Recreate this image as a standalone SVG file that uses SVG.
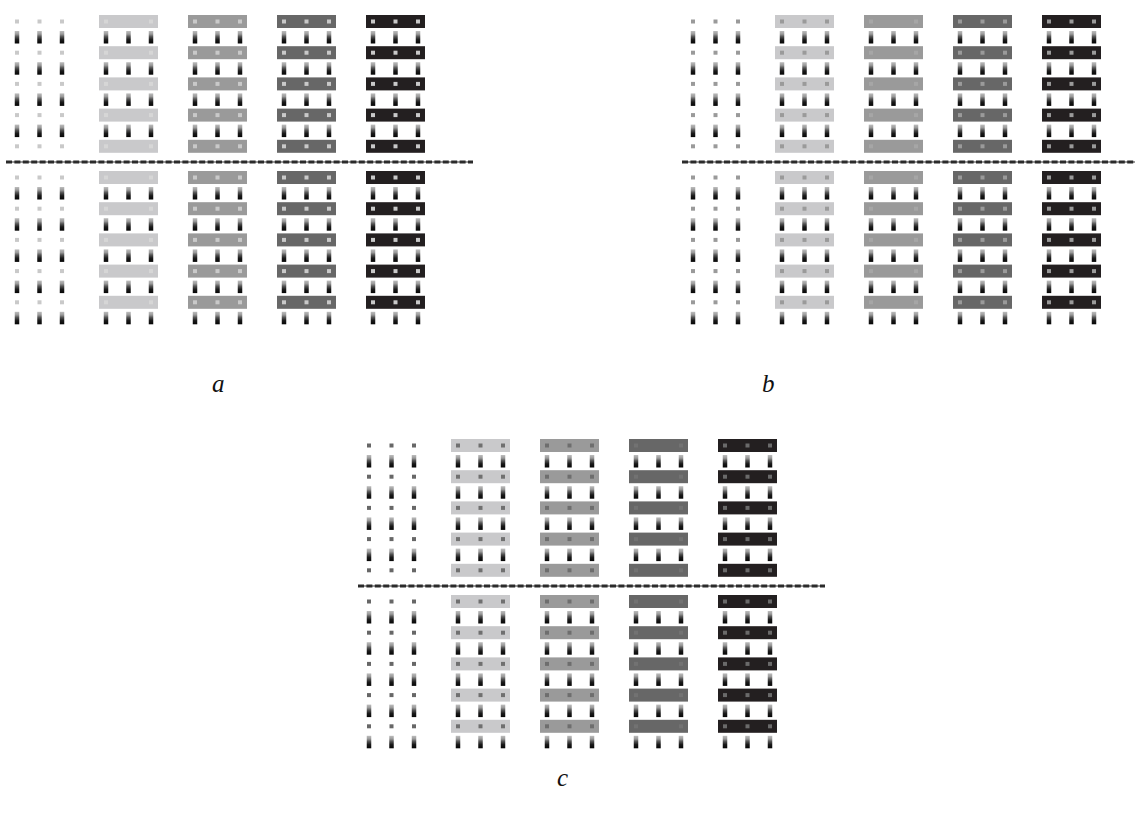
<svg xmlns="http://www.w3.org/2000/svg" xmlns:xlink="http://www.w3.org/1999/xlink" width="1135" height="817" viewBox="0 0 1135 817">
<style>
.lbl{font-family:"Liberation Serif","Times New Roman",serif;font-style:italic;font-size:25px;fill:#111}
.dash{stroke:#2b2b2b;stroke-width:3;stroke-dasharray:6 2.4}
.dashbg{stroke:#9a9a9a;stroke-width:2}
</style>
<defs>
<linearGradient id="pg" x1="0" y1="0" x2="0" y2="1">
<stop offset="0" stop-color="#bdbdbd"/>
<stop offset="0.25" stop-color="#9a9a9a"/>
<stop offset="0.45" stop-color="#555"/>
<stop offset="0.7" stop-color="#1a1a1a"/>
<stop offset="1" stop-color="#050505"/>
</linearGradient>
<rect id="p" x="-0.25" width="4.5" height="12.5" fill="url(#pg)"/>
<g id="pr"><use href="#p" x="5"/><use href="#p" x="27.5"/><use href="#p" x="50"/></g>
<g id="pc">
<use href="#pr" y="31"/><use href="#pr" y="62.2"/><use href="#pr" y="93.4"/><use href="#pr" y="124.6"/>
<use href="#pr" y="187"/><use href="#pr" y="218.2"/><use href="#pr" y="249.4"/><use href="#pr" y="280.6"/><use href="#pr" y="311.8"/>
</g>
<g id="bars">
<rect y="15" width="59" height="13"/><rect y="46.2" width="59" height="13"/><rect y="77.4" width="59" height="13"/><rect y="108.6" width="59" height="13"/><rect y="139.8" width="59" height="13"/>
<rect y="171" width="59" height="13"/><rect y="202.2" width="59" height="13"/><rect y="233.4" width="59" height="13"/><rect y="264.6" width="59" height="13"/><rect y="295.8" width="59" height="13"/>
</g>
<g id="s3"><rect x="5" width="4" height="4"/><rect x="27.5" width="4" height="4"/><rect x="50" width="4" height="4"/></g>
<g id="s2"><rect x="5" width="4" height="4"/><rect x="50" width="4" height="4"/></g>
<g id="sq3">
<use href="#s3" y="19.5"/><use href="#s3" y="50.7"/><use href="#s3" y="81.9"/><use href="#s3" y="113.1"/><use href="#s3" y="144.3"/>
<use href="#s3" y="175.5"/><use href="#s3" y="206.7"/><use href="#s3" y="237.9"/><use href="#s3" y="269.1"/><use href="#s3" y="300.3"/>
</g>
<g id="sq2">
<use href="#s2" y="19.5"/><use href="#s2" y="50.7"/><use href="#s2" y="81.9"/><use href="#s2" y="113.1"/><use href="#s2" y="144.3"/>
<use href="#s2" y="175.5"/><use href="#s2" y="206.7"/><use href="#s2" y="237.9"/><use href="#s2" y="269.1"/><use href="#s2" y="300.3"/>
</g>
<g id="cols">
<use href="#pc" x="10"/><use href="#pc" x="99"/><use href="#pc" x="188"/><use href="#pc" x="277"/><use href="#pc" x="366"/>
<use href="#bars" x="99" style="fill:#c9c9cb"/>
<use href="#bars" x="188" style="fill:#9a9a9a"/>
<use href="#bars" x="277" style="fill:#676767"/>
<use href="#bars" x="366" style="fill:#231f20"/>
</g>
</defs>

<g id="panel-a">
<use href="#cols"/>
<use href="#sq3" x="10" style="fill:#c9c9c9"/>
<use href="#sq2" x="99" style="fill:#d6d6d6"/>
<use href="#sq3" x="188" style="fill:#c9c9c9"/>
<use href="#sq3" x="277" style="fill:#c9c9c9"/>
<use href="#sq3" x="366" style="fill:#c9c9c9"/>
<line class="dashbg" x1="6" y1="162" x2="473" y2="162"/>
<line class="dash" x1="6" y1="162" x2="473" y2="162"/>
<text class="lbl" x="212" y="392">a</text>
</g>

<g id="panel-b" transform="translate(676,0)">
<use href="#cols"/>
<use href="#sq3" x="10" style="fill:#9a9a9a"/>
<use href="#sq3" x="99" style="fill:#9a9a9a"/>
<use href="#sq2" x="188" style="fill:#a6a6a6"/>
<use href="#sq3" x="277" style="fill:#9a9a9a"/>
<use href="#sq3" x="366" style="fill:#9a9a9a"/>
<line class="dashbg" x1="6" y1="162" x2="459" y2="162"/>
<line class="dash" x1="6" y1="162" x2="459" y2="162"/>
<text class="lbl" x="86" y="392">b</text>
</g>

<g id="panel-c" transform="translate(352,424)">
<use href="#cols"/>
<use href="#sq3" x="10" style="fill:#676767"/>
<use href="#sq3" x="99" style="fill:#707070"/>
<use href="#sq3" x="188" style="fill:#6e6e6e"/>
<use href="#sq2" x="277" style="fill:#727272"/>
<use href="#sq3" x="366" style="fill:#6a6a6a"/>
<line class="dashbg" x1="6" y1="162" x2="473" y2="162"/>
<line class="dash" x1="6" y1="162" x2="473" y2="162"/>
<text class="lbl" x="205" y="362">c</text>
</g>
</svg>
